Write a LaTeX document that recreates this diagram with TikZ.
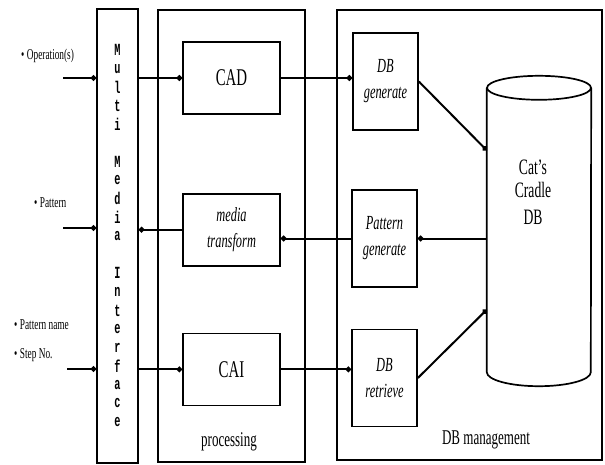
\documentclass[tikz,border=0pt]{standalone}
\usepackage{fontspec}
\setmainfont{Liberation Serif}[FakeStretch=0.62]
\setmonofont{Liberation Mono}[FakeStretch=0.6]
\usepackage{tikz}
\usetikzlibrary{arrows.meta,positioning,calc}

\begin{document}
\begin{tikzpicture}[
		x=1pt, y=-1pt,
		every node/.style={font=\fontsize{20}{22}\selectfont},
		panel/.style={draw, line width=1.6pt, inner sep=0pt},
		unit/.style={draw, line width=1.7pt, align=center, minimum width=97pt, minimum height=72pt, inner sep=2pt},
		dbunit/.style={unit, minimum width=65pt, minimum height=97pt, font=\fontsize{20}{26}\selectfont\itshape},
		tag/.style={anchor=west, inner sep=0pt, font=\fontsize{15}{17}\selectfont},
		letter/.style={inner sep=0pt, font=\fontsize{17}{17}\selectfont\ttfamily\bfseries},
		caption/.style={font=\fontsize{21}{22}\selectfont},
		conn/.style={-{Circle[length=5.5pt]}, line width=2pt},
		connback/.style={{Circle[length=5.5pt]}-, line width=2pt}
	]
		\useasboundingbox (0,0) rectangle (605,464);

		\node[panel, minimum width=41pt, minimum height=454pt]
			(iface) at (117.5,236) {};
		\node[panel, minimum width=147pt, minimum height=452pt]
			(proc) at (231.5,236) {};
		\node[panel, minimum width=265pt, minimum height=450pt]
			(dbm) at (469.5,235) {};

		\foreach \ch [count=\k] in {M,u,l,t,i,{},M,e,d,i,a,{},I,n,t,e,r,f,a,c,e}
			\node[letter] (ltr\k) at (117.5,{50+18.6*(\k-1)}) {\ch};

		\node[unit, font=\fontsize{24}{26}\selectfont]
			(cad) at (231.5,78)
			{CAD};
		\node[unit, below=78pt of cad, font=\fontsize{20}{26}\selectfont\itshape]
			(media)
			{media\\transform};
		\node[unit, below=66pt of media, font=\fontsize{24}{26}\selectfont]
			(cai)
			{CAI};

		\node[dbunit]
			(dbgen) at (385.5,81.5)
			{DB\\generate};
		\node[dbunit]
			(patgen) at (384.5,238.5)
			{Pattern\\generate};
		\node[dbunit]
			(dbret) at (384.5,378)
			{DB\\retrieve};

		\node[minimum width=104pt, minimum height=284pt, inner sep=0pt]
			(db) at (539,230) {};
		\draw[line width=1.7pt]
			(db.north west) -- (db.south west)
			arc[start angle=180, end angle=360, x radius=52pt, y radius=14pt]
			-- (db.north east);
		\draw[line width=1.7pt] (db.north) ellipse [x radius=52pt, y radius=12pt];
		\node[align=center, font=\fontsize{22}{23}\selectfont]
			(dbtext) at (533,192)
			{Cat's\\Cradle\\[4pt]DB};

		\node[tag] (optag) at (21,56) {\textbullet\,Operation(s)};
		\node[tag] (pattag) at (34,203) {\textbullet\,Pattern};
		\node[tag] (nametag) at (14,325) {\textbullet\,Pattern name};
		\node[tag] (steptag) at (14,355) {\textbullet\,Step No.};

		\node[caption] (proclbl) at (229,442) {processing};
		\node[caption] (dbmlbl) at (486,440) {DB management};

		\coordinate (opin) at (63,78);
		\coordinate (patout) at (63,228);
		\coordinate (stepin) at (67,369);

		\draw[conn] (opin) -- (opin -| iface.west);
		\draw[conn] (iface.east |- cad.west) -- (cad.west);
		\draw[conn] (cad.east) -- (cad.east -| dbgen.west);
		\draw[conn] (dbgen.east) -- ($(db.north west)!0.22!(db.south west)$);

		\draw[conn] (db.west |- patgen.east) -- (patgen.east);
		\draw[conn] (patgen.west) -- (patgen.west -| media.east);
		\draw[conn] (media.west) -- (media.west -| iface.east);
		\draw[connback] (iface.west |- patout) -- (patout);

		\draw[conn] (stepin) -- (stepin -| iface.west);
		\draw[conn] (iface.east |- cai.west) -- (cai.west);
		\draw[conn] (cai.east) -- (cai.east -| dbret.west);
		\draw[conn] (dbret.east) -- ($(db.north west)!0.78!(db.south west)$);
	\end{tikzpicture}
\end{document}
